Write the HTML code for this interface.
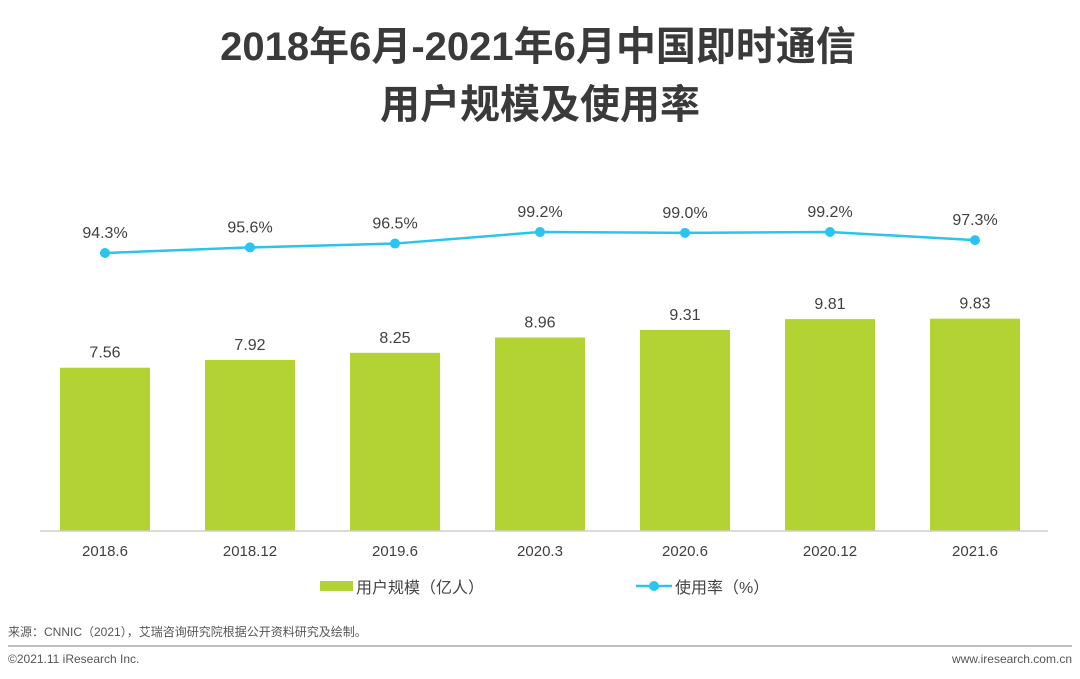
<!DOCTYPE html>
<html><head><meta charset="utf-8"><style>
body{margin:0;background:#fff;width:1080px;height:679px;overflow:hidden;font-family:"Liberation Sans","Noto Sans CJK SC",sans-serif;}
svg{display:block}
</style></head><body>
<svg width="1080" height="679">
<text x="538" y="60" text-anchor="middle" font-size="40" font-weight="bold" fill="#3a3a3a">2018年6月-2021年6月中国即时通信</text>
<text x="540" y="118" text-anchor="middle" font-size="40" font-weight="bold" fill="#3a3a3a">用户规模及使用率</text>
<g id="bars"></g>
<line x1="40" y1="531" x2="1048" y2="531" stroke="#cfcfcf" stroke-width="1.5"/>
<g id="line"></g>
<rect x="320" y="581" width="33" height="10" fill="#b3d334"/>
<text x="356" y="593" font-size="16" fill="#444">用户规模（亿人）</text>
<line x1="636" y1="586" x2="672" y2="586" stroke="#29c5f0" stroke-width="2.5"/>
<circle cx="654" cy="586" r="5" fill="#29c5f0"/>
<text x="675" y="593" font-size="16" fill="#444">使用率（%）</text>
<text x="8" y="636" font-size="12" fill="#555">来源：CNNIC（2021），艾瑞咨询研究院根据公开资料研究及绘制。</text>
<line x1="8" y1="646" x2="1072" y2="646" stroke="#aaa" stroke-width="1.5"/>
<text x="8" y="663" font-size="12" fill="#555">©2021.11 iResearch Inc.</text>
<text x="1072" y="663" font-size="12" fill="#555" text-anchor="end">www.iresearch.com.cn</text>
</svg>
<script>
const categories=["2018.6","2018.12","2019.6","2020.3","2020.6","2020.12","2021.6"];
const userScale=[7.56,7.92,8.25,8.96,9.31,9.81,9.83];
const usageRate=[94.3,95.6,96.5,99.2,99.0,99.2,97.3];
const NS="http://www.w3.org/2000/svg";
const xPos=i=>105+i*145;
const yBar=v=>531-v*21.6;
const yLine=v=>253-(v-94.3)*4.29;
function mk(tag,attrs,parent,txt){const e=document.createElementNS(NS,tag);for(const k in attrs)e.setAttribute(k,attrs[k]);if(txt!=null)e.textContent=txt;parent.appendChild(e);return e;}
const gb=document.getElementById('bars'),gl=document.getElementById('line');
categories.forEach((c,i)=>{
 const x=xPos(i),y=yBar(userScale[i]);
 const r=mk('rect',{x:x-45,y:y,width:90,height:531-y,fill:'#b3d334'},gb);
 
 
 const t=mk('text',{x:x,y:y-10,'text-anchor':'middle','font-size':16,fill:'#404040'},gb,userScale[i].toFixed(2));
 
 
 const xl=mk('text',{x:x,y:556,'text-anchor':'middle','font-size':15,fill:'#404040'},gb,c);
 
 
});
const pts=usageRate.map((v,i)=>xPos(i)+','+yLine(v)).join(' ');
const pl=mk('polyline',{points:pts,fill:'none',stroke:'#29c5f0','stroke-width':2.5},gl);


usageRate.forEach((v,i)=>{
 const c=mk('circle',{cx:xPos(i),cy:yLine(v),r:5,fill:'#29c5f0'},gl);
 
 
 const t=mk('text',{x:xPos(i),y:yLine(v)-15,'text-anchor':'middle','font-size':16,fill:'#404040'},gl,v.toFixed(1)+'%');
 
 
});
</script>
</body></html>
